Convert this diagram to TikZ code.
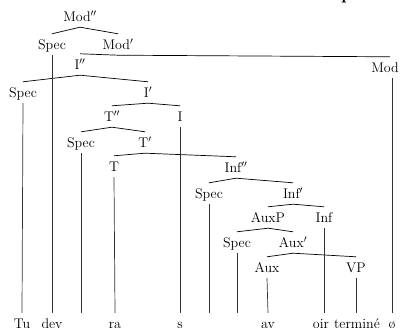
\documentclass[tikz,border=0pt]{standalone}
\begin{document}
\begin{tikzpicture}[x=1pt,y=-1pt,
  cat/.style={anchor=base, font=\fontsize{14}{16}\selectfont, text height=12pt, text depth=1pt, inner sep=4pt},
  word/.style={anchor=base, font=\fontsize{14}{16}\selectfont, text height=10pt, text depth=3pt, inner sep=6pt},
  branch/.style={line width=0.7pt},
  stemline/.style={line width=0.7pt, black!80}]
\useasboundingbox (0,0) rectangle (400,328);
\fill[white] (0,0) rectangle (400,328);
% fragment of a heading above the picture
\node[anchor=base west, inner sep=0pt, font=\fontsize{18}{20}\selectfont\bfseries] (frag) at (341,0) {p};
% categories
\node[cat] (mod2) at (80,22) {Mod$''$};
\node[cat] (spec1) at (52,50) {Spec};
\node[cat] (modp) at (118,50) {Mod$'$};
\node[cat] (mod) at (385,73) {Mod};
\node[cat] (i2) at (80,70) {I$''$};
\node[cat] (spec2) at (23,98) {Spec};
\node[cat] (ip) at (148,98) {I$'$};
\node[cat] (t2) at (112,122) {T$''$};
\node[cat] (i) at (180,122) {I};
\node[cat] (spec3) at (81,148) {Spec};
\node[cat] (tp) at (145,148) {T$'$};
\node[cat] (t) at (114,172) {T};
\node[cat] (inf2) at (236,173) {Inf$''$};
\node[cat] (spec4) at (209,199) {Spec};
\node[cat] (infp) at (293,199) {Inf$'$};
\node[cat] (auxp) at (268,223) {AuxP};
\node[cat] (inf) at (324,223) {Inf};
\node[cat] (spec5) at (237,248) {Spec};
\node[cat] (auxpr) at (293,248) {Aux$'$};
\node[cat] (aux) at (267,273) {Aux};
\node[cat] (vp) at (356,273) {VP};
% words
\node[word] (w1) at (22,329) {Tu};
\node[word] (w2) at (52,329) {dev};
\node[word] (w3) at (115,329) {ra};
\node[word] (w4) at (180,329) {s};
\node[word] (w5) at (268,329) {av};
\node[word] (w6) at (321,329) {oir};
\node[word] (w7) at (357,329) {termin\'e};
\node[word] (w8) at (392,329) {\o};
\coordinate (e3) at (81,313);
\coordinate (e4) at (209,313);
\coordinate (e5) at (237,313);
% branches
\draw[branch] (spec1.north) -- (mod2.south) -- (modp.north);
\draw[branch] (i2.north) -- (modp.south) -- ([xshift=5pt]mod.north);
\draw[branch] (spec2.north) -- (i2.south) -- (ip.north);
\draw[branch] (t2.north) -- (ip.south) -- (i.north);
\draw[branch] (spec3.north) -- (t2.south) -- (tp.north);
\draw[branch] (t.north) -- (tp.south) -- (inf2.north);
\draw[branch] (spec4.north) -- (inf2.south) -- (infp.north);
\draw[branch] (auxp.north) -- (infp.south) -- (inf.north);
\draw[branch] (spec5.north) -- (auxp.south) -- (auxpr.north);
\draw[branch] (aux.north) -- (auxpr.south) -- (vp.north);
% stems to words
\draw[stemline] (spec2.south) -- (w1.north);
\draw[stemline] (spec1.south) -- (w2.north);
\draw[stemline] (spec3.south) -- (e3);
\draw[stemline] (t.south) -- (w3.north);
\draw[stemline] (i.south) -- (w4.north);
\draw[stemline] (spec4.south) -- (e4);
\draw[stemline] (spec5.south) -- (e5);
\draw[stemline] (aux.south) -- (w5.north);
\draw[stemline] (inf.south) -- (inf.south |- w6.north);
\draw[stemline] (vp.south) -- (vp.south |- w7.north);
\draw[stemline] (mod.south -| w8.north) -- (w8.north);
\end{tikzpicture}
\end{document}
